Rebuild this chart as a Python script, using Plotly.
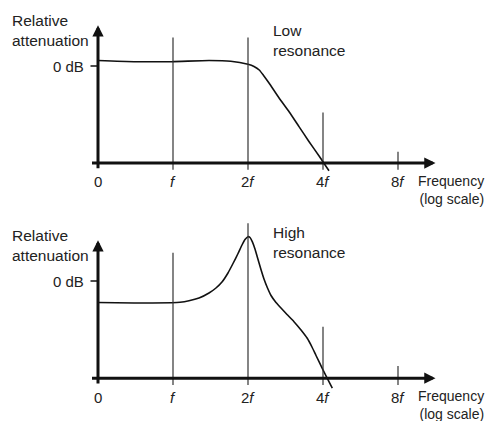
import plotly.graph_objects as go

# ---------------- data ----------------
TICK_POS = [0, 1, 2, 3, 4]
TICK_LABELS = ["0", "<i>f</i>", "2<i>f</i>", "4<i>f</i>", "8<i>f</i>"]

# low resonance response (relative dB, 0 dB reference, axis at -20)
LOW_X = [0.0, 0.48, 0.98, 1.48, 1.77, 2.0, 2.08, 2.15, 2.21, 2.28, 2.41, 2.55, 2.68, 2.81, 2.95, 3.01, 3.08]
LOW_Y = [1.13, 0.89, 0.89, 1.13, 0.99, 0.35, -0.1, -0.82, -2.0, -3.5, -6.5, -9.5, -12.5, -15.5, -18.6, -20.0, -21.6]

# high resonance response
HIGH_X = [0.0, 0.48, 0.98, 1.093, 1.213, 1.347, 1.48, 1.573, 1.653, 1.733, 1.8, 1.867, 1.92, 1.96, 2.0,
          2.027, 2.057, 2.093, 2.124, 2.167, 2.213, 2.26, 2.307, 2.373, 2.44, 2.52, 2.613, 2.707, 2.79,
          2.853, 2.907, 2.99, 3.057, 3.124]
HIGH_Y = [-4.42, -4.53, -4.47, -4.38, -4.07, -3.5, -2.47, -1.44, -0.21, 1.65, 3.6, 5.66, 7.41, 8.54, 9.12,
          8.95, 8.09, 6.58, 4.94, 2.67, 0.41, -1.44, -2.98, -4.42, -5.56, -6.89, -8.37, -10.08, -11.79,
          -13.58, -15.33, -17.96, -20.02, -22.02]

# vertical guide lines at f, 2f, 4f, 8f (top ends)
GUIDE_X = [1, 2, 3, 4]
GUIDE_TOP_LOW = [5.9, 5.9, -9.6, -17.7]
GUIDE_TOP_HIGH = [5.8, 11.9, -9.4, -17.5]

# ---------------- layout constants ----------------
W, H = 487, 421
AXIS_Y = -20.0
GUIDE_BOTTOM = -21.4
Y_ARROW_TOP = 8.4
X_AXIS_START = -0.1
X_ARROW_TIP = 4.5
FONT = "Liberation Sans, Arial, sans-serif"
TXT = "#222222"
INK = "#111111"

fig = go.Figure()

panels = [
    dict(xa="x", ya="y", cx=LOW_X, cy=LOW_Y, tops=GUIDE_TOP_LOW,
         note="Low<br>resonance", note_y=5.36),
    dict(xa="x2", ya="y2", cx=HIGH_X, cy=HIGH_Y, tops=GUIDE_TOP_HIGH,
         note="High<br>resonance", note_y=8.0),
]

shapes = []
annotations = []
for p in panels:
    xa, ya = p["xa"], p["ya"]
    fig.add_trace(go.Scatter(x=p["cx"], y=p["cy"], mode="lines",
                             line=dict(color=INK, width=1.6, shape="spline", smoothing=0.5),
                             xaxis=xa, yaxis=ya, hoverinfo="skip", showlegend=False))
    # guide lines
    for gx, gt in zip(GUIDE_X, p["tops"]):
        shapes.append(dict(type="line", xref=xa, yref=ya, x0=gx, x1=gx,
                           y0=GUIDE_BOTTOM, y1=gt, line=dict(color="#333333", width=1.2)))
    # 0 dB tick
    shapes.append(dict(type="line", xref=xa, yref=ya, x0=-0.1, x1=0, y0=0, y1=0,
                       line=dict(color=INK, width=1.5)))
    # x axis with arrow
    annotations.append(dict(xref=xa, yref=ya, axref=xa, ayref=ya,
                            x=X_ARROW_TIP, y=AXIS_Y, ax=X_AXIS_START, ay=AXIS_Y,
                            text="", showarrow=True, arrowhead=2, arrowwidth=3,
                            arrowsize=0.75, arrowcolor=INK, standoff=0))
    # y axis with arrow
    annotations.append(dict(xref=xa, yref=ya, axref=xa, ayref=ya,
                            x=0, y=Y_ARROW_TOP, ax=0, ay=GUIDE_BOTTOM,
                            text="", showarrow=True, arrowhead=2, arrowwidth=3,
                            arrowsize=0.75, arrowcolor=INK, standoff=0))
    # tick labels
    for tx, tl in zip(TICK_POS, TICK_LABELS):
        annotations.append(dict(xref=xa, yref=ya, x=tx, y=-23.9, text=tl,
                                showarrow=False, xanchor="center", yanchor="middle",
                                font=dict(family=FONT, size=15, color=TXT)))
    annotations.append(dict(xref=xa, yref=ya, x=5.16, y=-25.6, text="Frequency<br>(log scale)",
                            showarrow=False, xanchor="right", yanchor="middle", align="right",
                            borderpad=0,
                            font=dict(family=FONT, size=14, color=TXT)))
    annotations.append(dict(xref=xa, yref=ya, x=-0.16, y=0, text="0 dB",
                            showarrow=False, xanchor="right", yanchor="middle",
                            font=dict(family=FONT, size=15, color=TXT)))
    annotations.append(dict(xref=xa, yref=ya, x=-1.17, y=7.4, text="Relative<br>attenuation",
                            showarrow=False, xanchor="left", yanchor="middle", align="left",
                            font=dict(family=FONT, size=15.5, color=TXT)))
    annotations.append(dict(xref=xa, yref=ya, x=2.3, y=p["note_y"], text=p["note"],
                            showarrow=False, xanchor="left", yanchor="middle", align="left",
                            font=dict(family=FONT, size=15.5, color=TXT)))

x_range = [-98 / 75, (W - 98) / 75]
ax_common = dict(visible=False, showgrid=False, zeroline=False, fixedrange=True)
fig.update_layout(
    width=W, height=H,
    margin=dict(l=0, r=0, t=0, b=0),
    paper_bgcolor="white", plot_bgcolor="white",
    xaxis=dict(domain=[0, 1], range=x_range, anchor="y", **ax_common),
    yaxis=dict(domain=[0.5, 1], range=[(66 - 210.5) / 4.85, 66 / 4.85], anchor="x", **ax_common),
    xaxis2=dict(domain=[0, 1], range=x_range, anchor="y2", **ax_common),
    yaxis2=dict(domain=[0, 0.5], range=[(281 - 421) / 4.86, (281 - 210.5) / 4.86], anchor="x2", **ax_common),
    shapes=shapes,
    annotations=annotations,
    showlegend=False,
)

fig.write_html("out.html")
